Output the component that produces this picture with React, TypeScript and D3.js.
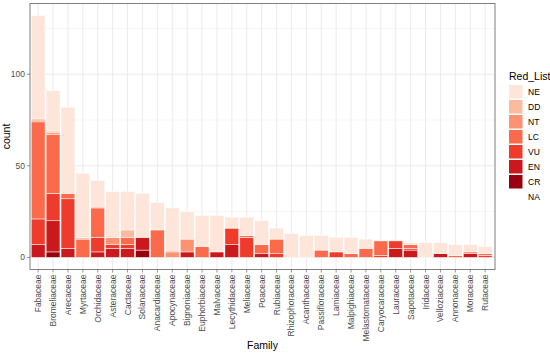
import React, { useEffect } from 'react';
import * as d3 from 'd3';

// families, in the order shown on the x axis
const families = [
  'Fabaceae', 'Bromeliaceae', 'Arecaceae', 'Myrtaceae', 'Orchidaceae', 'Asteraceae',
  'Cactaceae', 'Solanaceae', 'Anacardiaceae', 'Apocynaceae', 'Bignoniaceae', 'Euphorbiaceae',
  'Malvaceae', 'Lecythidaceae', 'Meliaceae', 'Poaceae', 'Rubiaceae', 'Rhizophoraceae',
  'Acanthaceae', 'Passifloraceae', 'Lamiaceae', 'Malpighiaceae', 'Melastomataceae',
  'Caryocaraceae', 'Lauraceae', 'Sapotaceae', 'Iridaceae', 'Velloziaceae', 'Annonaceae',
  'Moraceae', 'Rutaceae',
];

// counts per Red_List category (same order as families)
const NE = [56, 22, 47, 35, 14, 25, 21, 24, 15, 23, 15, 17, 20, 6, 10, 13, 6, 13, 12, 8, 8, 9, 5, 0, 0, 1, 8, 6, 6, 4, 4];
const DD = [1, 1, 0, 1, 1, 0, 4, 0, 0, 1, 0, 0, 0, 0, 0, 0, 0, 0, 0, 0, 0, 0, 0, 0, 0, 0, 0, 0, 0, 0, 0];
const NT = [1, 1, 0, 0, 0, 4, 0, 0, 0, 3, 7, 0, 0, 0, 0, 0, 0, 0, 0, 0, 0, 0, 0, 0, 0, 0, 0, 0, 0, 0, 0];
const LC = [53, 32, 3, 10, 16, 0, 4, 0, 15, 0, 0, 6, 0, 0, 1, 5, 8, 0, 0, 4, 0, 2, 5, 8, 0, 2, 0, 0, 1, 1, 1];
const VU = [14, 15, 27, 0, 8, 2, 2, 0, 0, 0, 0, 0, 0, 9, 11, 0, 2, 0, 0, 0, 3, 0, 0, 1, 4, 1, 0, 0, 0, 0, 1];
const EN = [7, 17, 5, 0, 3, 5, 5, 7, 0, 0, 3, 0, 3, 7, 0, 2, 0, 0, 0, 0, 0, 0, 0, 0, 5, 4, 0, 2, 0, 2, 0];
const CR = [0, 3, 0, 0, 0, 0, 0, 4, 0, 0, 0, 0, 0, 0, 0, 0, 0, 0, 0, 0, 0, 0, 0, 0, 0, 0, 0, 0, 0, 0, 0];

const legendLabels = ['NE', 'DD', 'NT', 'LC', 'VU', 'EN', 'CR', 'NA'];
const colors = ['#FEE5D9', '#FCBBA1', '#FC9272', '#FB6A4A', '#EF3B2C', '#CB181D', '#99000D'];
const yTicks = [0, 50, 100];
const yMinor = [25, 75, 125];

const W = 550;
const H = 353;
const panel = { left: 30, right: 495, top: 3.5, bottom: 269.5 };
const font = '"Liberation Sans", Arial, sans-serif';

export default function App() {
  useEffect(() => {
    document.body.style.margin = '0';
  }, []);

  const series: Record<string, number[]> = { NE, DD, NT, LC, VU, EN, CR };
  const rows = families.map((f, i) => {
    const r: any = { family: f };
    Object.keys(series).forEach((k) => (r[k] = series[k][i]));
    return r;
  });
  // CR at the bottom, NE on top
  const stackKeys = ['CR', 'EN', 'VU', 'LC', 'NT', 'DD', 'NE'];
  const stacked = d3.stack().keys(stackKeys)(rows);
  const color = d3.scaleOrdinal<string, string>().domain(legendLabels.slice(0, 7)).range(colors);

  const x = d3.scaleBand().domain(families).range([panel.left + 0.7, panel.left + 0.7 + 31 * 14.9]).paddingInner(0.07).paddingOuter(0.035);
  const totalMax = d3.max(rows, (r: any) => stackKeys.reduce((s, k) => s + r[k], 0)) as number;
  const pad = totalMax * 0.05;
  const y = d3.scaleLinear().domain([-pad, totalMax + pad]).range([panel.bottom, panel.top]);

  return (
    <svg width={W} height={H} style={{ display: 'block', background: '#fff' }} fontFamily={font}>
      {/* grid */}
      {yMinor.map((t) => (
        <line key={'m' + t} x1={panel.left} x2={panel.right} y1={y(t)} y2={y(t)} stroke="#F2F2F2" strokeWidth={0.6} />
      ))}
      {yTicks.map((t) => (
        <line key={'g' + t} x1={panel.left} x2={panel.right} y1={y(t)} y2={y(t)} stroke="#EBEBEB" strokeWidth={1} />
      ))}
      {families.map((f) => (
        <line key={'v' + f} x1={x(f)! + x.bandwidth() / 2} x2={x(f)! + x.bandwidth() / 2} y1={panel.top} y2={panel.bottom} stroke="#EBEBEB" strokeWidth={1} />
      ))}

      {/* bars */}
      {stacked.map((layer) => (
        <g key={layer.key} fill={color(layer.key)}>
          {layer.map((d, i) =>
            d[1] - d[0] > 0 ? (
              <rect
                key={i}
                x={x(families[i])}
                width={x.bandwidth()}
                y={y(d[1])}
                height={y(d[0]) - y(d[1])}
                stroke="#fff"
                strokeWidth={0.5}
              />
            ) : null
          )}
        </g>
      ))}

      {/* panel border */}
      <rect x={panel.left} y={panel.top} width={panel.right - panel.left} height={panel.bottom - panel.top} fill="none" stroke="#7F7F7F" strokeWidth={1} />

      {/* y axis */}
      {yTicks.map((t) => (
        <g key={'y' + t}>
          <line x1={panel.left - 3} x2={panel.left} y1={y(t)} y2={y(t)} stroke="#4D4D4D" strokeWidth={0.6} />
          <text x={panel.left - 5} y={y(t)} dy="0.35em" textAnchor="end" fontSize={8.5} fill="#4D4D4D">{t}</text>
        </g>
      ))}
      <text transform={`translate(10,${(panel.top + panel.bottom) / 2}) rotate(-90)`} textAnchor="middle" fontSize={10.5} fill="#000">count</text>

      {/* x axis */}
      {families.map((f) => {
        const cx = x(f)! + x.bandwidth() / 2;
        return (
          <g key={'x' + f}>
            <line x1={cx} x2={cx} y1={panel.bottom} y2={panel.bottom + 3} stroke="#4D4D4D" strokeWidth={0.6} />
            <text transform={`translate(${cx},${panel.bottom + 5}) rotate(-90)`} dy="0.35em" textAnchor="end" fontSize={8.5} fill="#4D4D4D">{f}</text>
          </g>
        );
      })}
      <text x={(panel.left + panel.right) / 2} y={349} textAnchor="middle" fontSize={10.5} fill="#000">Family</text>

      {/* legend */}
      <text x={509} y={80} fontSize={10.5} fill="#000">Red_List</text>
      {legendLabels.map((l, i) => (
        <g key={l} transform={`translate(509,${85 + i * 15})`}>
          {i < 7 ? <rect width={13.5} height={13.5} fill={colors[i]} /> : null}
          <text x={19} y={6.75} dy="0.35em" fontSize={8.5} fill="#000">{l}</text>
        </g>
      ))}
    </svg>
  );
}
